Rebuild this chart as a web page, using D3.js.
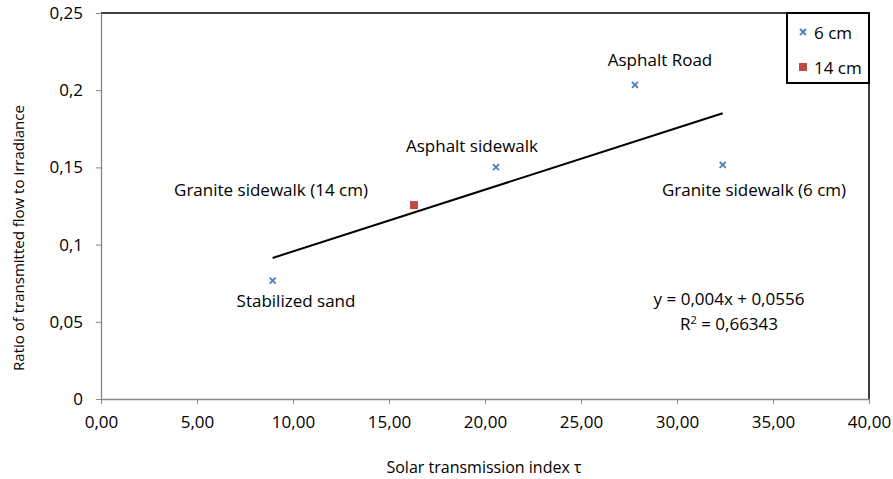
<!DOCTYPE html>
<html><head><meta charset="utf-8">
<script src="https://cdn.jsdelivr.net/npm/d3@7"></script>
<style>body{margin:0;background:#fff}svg{display:block}text{font-family:"Open Sans",sans-serif;fill:#000}</style>
</head><body><svg id="c" width="893" height="479"></svg>
<script>
const names = ["Stabilized sand","Granite sidewalk (14 cm)","Asphalt sidewalk","Asphalt Road","Granite sidewalk (6 cm)"];
const xVals = [8.94, 16.3, 20.57, 27.81, 32.38];
const yVals = [0.0766, 0.1256, 0.1502, 0.2034, 0.1516];
const series = ["6 cm","14 cm","6 cm","6 cm","6 cm"];
const xTicks = [0,5,10,15,20,25,30,35,40];
const yTicks = [0,0.05,0.1,0.15,0.2,0.25];
const yTickLabels = ["0","0,05","0,1","0,15","0,2","0,25"];
const slope = 0.004, intercept = 0.0556, r2 = "0,66343";

const svg = d3.select("#c");
const m = {l:101, r:869, t:13, b:399};
const x = d3.scaleLinear().domain([0,40]).range([m.l,m.r]);
const y = d3.scaleLinear().domain([0,0.25]).range([m.b,m.t]);
const blue="#4a7ebb", red="#be4b48";
const FS = 17;

// plot border top/right
svg.append("path").attr("d",`M${m.l},${m.t}H${m.r}V${m.b}`).attr("fill","none").attr("stroke","#000").attr("stroke-width",1.5);

const fmtX = d=>d3.format(".2f")(d).replace(".",",");
const xa = svg.append("g").attr("transform",`translate(0,${m.b})`).call(d3.axisBottom(x).tickValues(xTicks).tickSize(5).tickSizeOuter(0).tickFormat(fmtX).tickPadding(12));
const ya = svg.append("g").attr("transform",`translate(${m.l},0)`).call(d3.axisLeft(y).tickValues(yTicks).tickSize(5).tickSizeOuter(0).tickFormat((d,i)=>yTickLabels[i]).tickPadding(13));
[xa,ya].forEach(a=>{a.select(".domain").attr("stroke","#868686").attr("stroke-width",1.3);a.selectAll(".tick line").attr("stroke","#868686");a.selectAll("text").attr("font-size",FS).attr("font-family","'Open Sans',sans-serif").attr("fill","#000");});

// trendline
const x0 = d3.min(xVals), x1 = d3.max(xVals);
svg.append("line").attr("x1",x(x0)).attr("y1",y(slope*x0+intercept)).attr("x2",x(x1)).attr("y2",y(slope*x1+intercept)).attr("stroke","#000").attr("stroke-width",2);

// points
xVals.forEach((xv,i)=>{
  const px=x(xv), py=y(yVals[i]);
  if(series[i]==="14 cm"){
    svg.append("rect").attr("x",px-4).attr("y",py-4).attr("width",8).attr("height",8).attr("fill",red);
  } else {
    svg.append("path").attr("d",`M${px-3},${py-3}L${px+3},${py+3}M${px-3},${py+3}L${px+3},${py-3}`).attr("stroke",blue).attr("stroke-width",1.8);
  }
});

// labels
const lab = [[296,307],[271,196],[472,152],[660,66],[754,196]];
names.forEach((n,i)=>{
  svg.append("text").attr("x",lab[i][0]).attr("y",lab[i][1]).attr("text-anchor","middle").attr("font-size",FS).text(n);
});

// equation
svg.append("text").attr("x",729).attr("y",305).attr("text-anchor","middle").attr("font-size",FS).text(`y = ${String(slope).replace(".",",")}x + ${String(intercept).replace(".",",")}`);
const t2 = svg.append("text").attr("x",729).attr("y",330).attr("text-anchor","middle").attr("font-size",FS);
t2.append("tspan").text("R");
t2.append("tspan").attr("dy",-6).attr("font-size",11).text("2");
t2.append("tspan").attr("dy",6).text(" = "+r2);

// legend
svg.append("rect").attr("x",787).attr("y",13).attr("width",82).attr("height",70).attr("fill","#fff").attr("stroke","#000").attr("stroke-width",2);
const lx=803;
svg.append("path").attr("d",`M${lx-3},${29}L${lx+3},${35}M${lx-3},${35}L${lx+3},${29}`).attr("stroke",blue).attr("stroke-width",1.8);
svg.append("rect").attr("x",lx-4).attr("y",63).attr("width",8).attr("height",8).attr("fill",red);
svg.append("text").attr("x",814).attr("y",39).attr("font-size",FS).text("6 cm");
svg.append("text").attr("x",814).attr("y",74).attr("font-size",FS).text("14 cm");

// axis titles
svg.append("text").attr("x",484).attr("y",473).attr("text-anchor","middle").attr("font-size",16).text("Solar transmission index τ");
svg.append("text").attr("transform","translate(24,238) rotate(-90)").attr("text-anchor","middle").attr("font-size",15).text("Ratio of transmitted flow to irradiance");
</script></body></html>
